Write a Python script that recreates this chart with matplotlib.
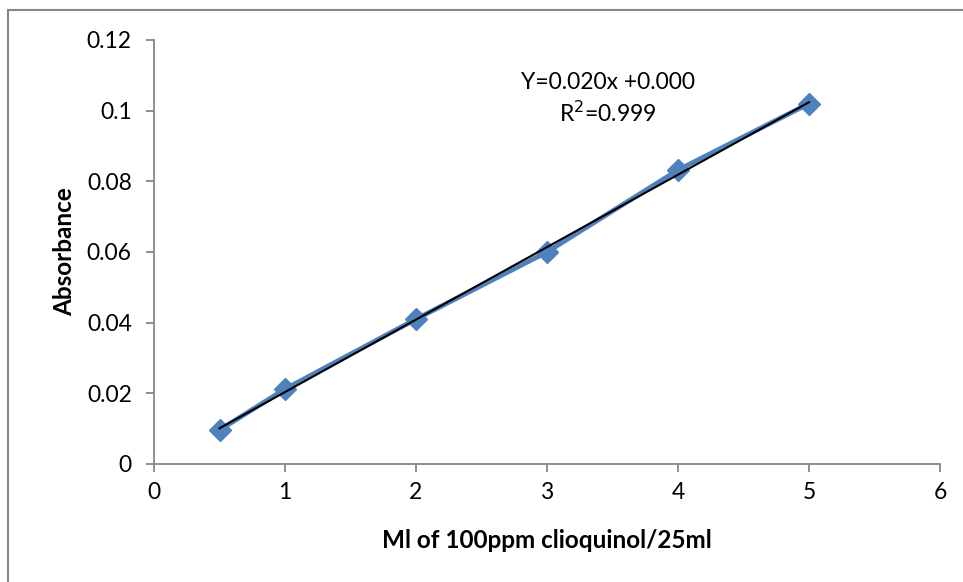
import numpy as np
import matplotlib
matplotlib.use("Agg")
import matplotlib.pyplot as plt
from matplotlib.patches import Rectangle

x_vals = [0.5, 1, 2, 3, 4, 5]
absorbance = [0.0096, 0.0212, 0.041, 0.060, 0.0832, 0.102]
x_ticks = [0, 1, 2, 3, 4, 5, 6]
y_ticks = [0, 0.02, 0.04, 0.06, 0.08, 0.1, 0.12]
y_tick_labels = ["0", "0.02", "0.04", "0.06", "0.08", "0.1", "0.12"]

plt.rcParams['font.family'] = ['Lato', 'DejaVu Sans']

fig = plt.figure(figsize=(9.63, 5.82), dpi=100)
fig.patches.append(Rectangle((8/963, -0.1), 1.2, (582-10)/582 + 0.1, transform=fig.transFigure,
                             fill=False, edgecolor='#878787', linewidth=1.5))
ax = fig.add_axes([154/963, 118/582, (940-154)/963, (464-40)/582])

ax.plot(x_vals, absorbance, color='#4F81BD', linewidth=3.5, marker='D', markersize=11,
        markerfacecolor='#4F81BD', markeredgecolor='#4F81BD', zorder=2)
coef = np.polyfit(x_vals, absorbance, 1)
xf = np.array([x_vals[0], x_vals[-1]])
ax.plot(xf, np.polyval(coef, xf), color='black', linewidth=1.5, zorder=3)

ax.set_xlim(0, 6)
ax.set_ylim(0, 0.12)
ax.set_xticks(x_ticks)
ax.set_yticks(y_ticks)
ax.set_yticklabels(y_tick_labels)
for s in ['top', 'right']:
    ax.spines[s].set_visible(False)
for s in ['left', 'bottom']:
    ax.spines[s].set_color('#868686')
    ax.spines[s].set_linewidth(1.3)
ax.tick_params(axis='both', colors='#868686', labelcolor='black', labelsize=16.5,
               length=6, width=1.3, direction='out')
ax.tick_params(axis='y', pad=10)
ax.tick_params(axis='x', pad=7)

ax.set_xlabel('Ml of 100ppm clioquinol/25ml', fontsize=17.5, fontweight='bold', labelpad=19)
ax.set_ylabel('Absorbance', fontsize=17.5, fontweight='bold', labelpad=8)

ax.text(3.466, 0.108, 'Y=0.020x +0.000', ha='center', va='center', fontsize=16.5)
ax.text(3.466, 0.0993, 'R$^2$=0.999', ha='center', va='center', fontsize=16.5)

fig.savefig('out.png', dpi=100)
